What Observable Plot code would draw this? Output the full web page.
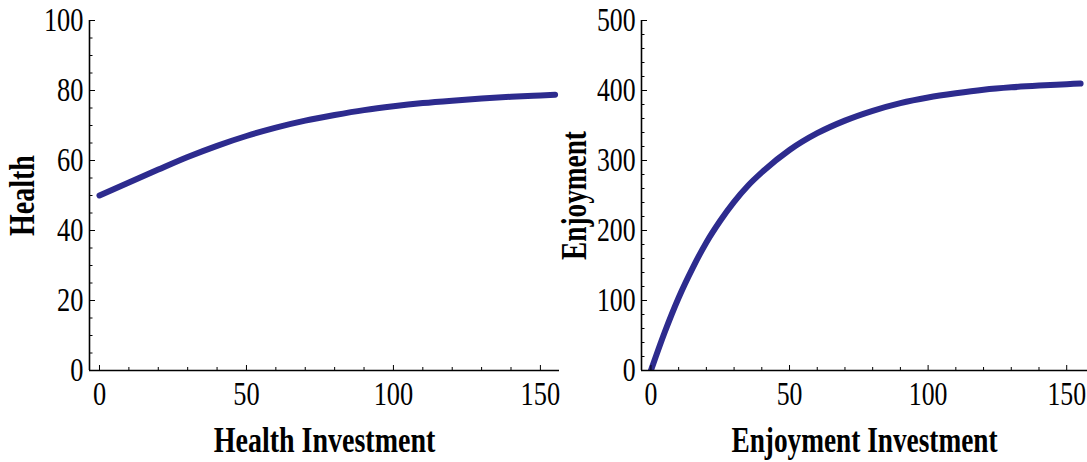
<!DOCTYPE html>
<html><head><meta charset="utf-8">
<script src="https://cdn.jsdelivr.net/npm/d3@7"></script>
<script src="https://cdn.jsdelivr.net/npm/@observablehq/plot@0.6"></script>
<style>
html,body{margin:0;padding:0;background:#fff;}
#wrap{display:flex;width:1087px;height:462px;overflow:hidden;}
svg{display:block;}
</style></head><body><div id="wrap"></div>
<script>
// ---- data ----
const healthInvestment = [0, 10, 20, 30, 40, 50, 60, 70, 80, 90, 100, 110, 120, 130, 140, 150, 155];
const health           = [50, 53.7, 57.4, 61.0, 64.2, 67.0, 69.4, 71.4, 73.0, 74.4, 75.5, 76.4, 77.1, 77.7, 78.2, 78.6, 78.8];

const enjoymentInvestment = [0, 5, 10, 15, 20, 25, 30, 35, 40, 50, 60, 70, 80, 90, 100, 110, 120, 130, 140, 150, 155];
const enjoyment           = [0, 55, 104, 146, 183, 214, 241, 264, 283, 315, 339, 357, 371, 382, 390, 396, 401, 404.5, 407, 409, 410];

const xMajorTicks = [0, 50, 100, 150];
const xMinorTicks = [10, 20, 30, 40, 60, 70, 80, 90, 110, 120, 130, 140];
const healthMajorTicks = [0, 20, 40, 60, 80, 100];
const healthMinorTicks = [5, 10, 15, 25, 30, 35, 45, 50, 55, 65, 70, 75, 85, 90, 95];
const enjoyMajorTicks = [0, 100, 200, 300, 400, 500];
const enjoyMinorTicks = [20, 40, 60, 80, 120, 140, 160, 180, 220, 240, 260, 280, 320, 340, 360, 380, 420, 440, 460, 480];

const xLabels = ["Health Investment", "Enjoyment Investment"];
const yLabels = ["Health", "Enjoyment"];

const LINE = "#2d2b8e";
const FONT = "'Liberation Serif', 'Times New Roman', serif";

function panel({width, marginLeft, marginRight, xDomain, yDomain, xs, ys, yMajor, yMinor, xLabel, yLabel}) {
  const data = xs.map((x, i) => ({x, y: ys[i]}));
  return Plot.plot({
    width, height: 462,
    marginTop: 20, marginBottom: 92, marginLeft, marginRight,
    style: {background: "white", color: "black", fontFamily: FONT, overflow: "visible"},
    x: {domain: xDomain},
    y: {domain: yDomain},
    marks: [
      Plot.line(data, {x: "x", y: "y", stroke: LINE, strokeWidth: 6, curve: "monotone-x", clip: true}),
      Plot.axisX(xMajorTicks, {tickSize: -5, tickPadding: 16, fontSize: 33, label: null, stroke: "black"}),
      Plot.axisX(xMinorTicks, {tickSize: -3, tickFormat: () => "", label: null, stroke: "black"}),
      Plot.axisY(yMajor, {tickSize: -6, tickPadding: 12, fontSize: 33, label: null, stroke: "black"}),
      Plot.axisY(yMinor, {tickSize: -3.5, tickFormat: () => "", label: null, stroke: "black"}),
      Plot.ruleX([xDomain[0]], {stroke: "black", strokeWidth: 1.6}),
      Plot.ruleY([yDomain[0]], {stroke: "black", strokeWidth: 1.6}),
      Plot.text([xLabel], {frameAnchor: "bottom", dy: 70, textAnchor: "middle", lineAnchor: "middle",
                           fontSize: 35, fontWeight: "bold", fill: "black"}),
      Plot.text([yLabel], {frameAnchor: "left", dx: -67, rotate: -90, textAnchor: "middle", lineAnchor: "middle",
                           fontSize: 35, fontWeight: "bold", fill: "black"})
    ]
  });
}

const wrap = document.getElementById("wrap");
const left = panel({
  width: 560, marginLeft: 89, marginRight: 1,
  xDomain: [-3.4, 156.5], yDomain: [0, 100],
  xs: healthInvestment, ys: health,
  yMajor: healthMajorTicks, yMinor: healthMinorTicks,
  xLabel: xLabels[0], yLabel: yLabels[0]
});
const right = panel({
  width: 527, marginLeft: 81, marginRight: 0,
  xDomain: [-3.4, 157.5], yDomain: [0, 500],
  xs: enjoymentInvestment, ys: enjoyment,
  yMajor: enjoyMajorTicks, yMinor: enjoyMinorTicks,
  xLabel: xLabels[1], yLabel: yLabels[1]
});
wrap.appendChild(left);
wrap.appendChild(right);

// the reference typeface is condensed along the text direction
function condense(svg, k) {
  svg.querySelectorAll("text").forEach(t => {
    const L = t.getComputedTextLength();
    if (L > 0) {
      t.setAttribute("textLength", (L * k).toFixed(2));
      t.setAttribute("lengthAdjust", "spacingAndGlyphs");
    }
  });
}
condense(left, 0.8);
condense(right, 0.78);
</script>
</body></html>
